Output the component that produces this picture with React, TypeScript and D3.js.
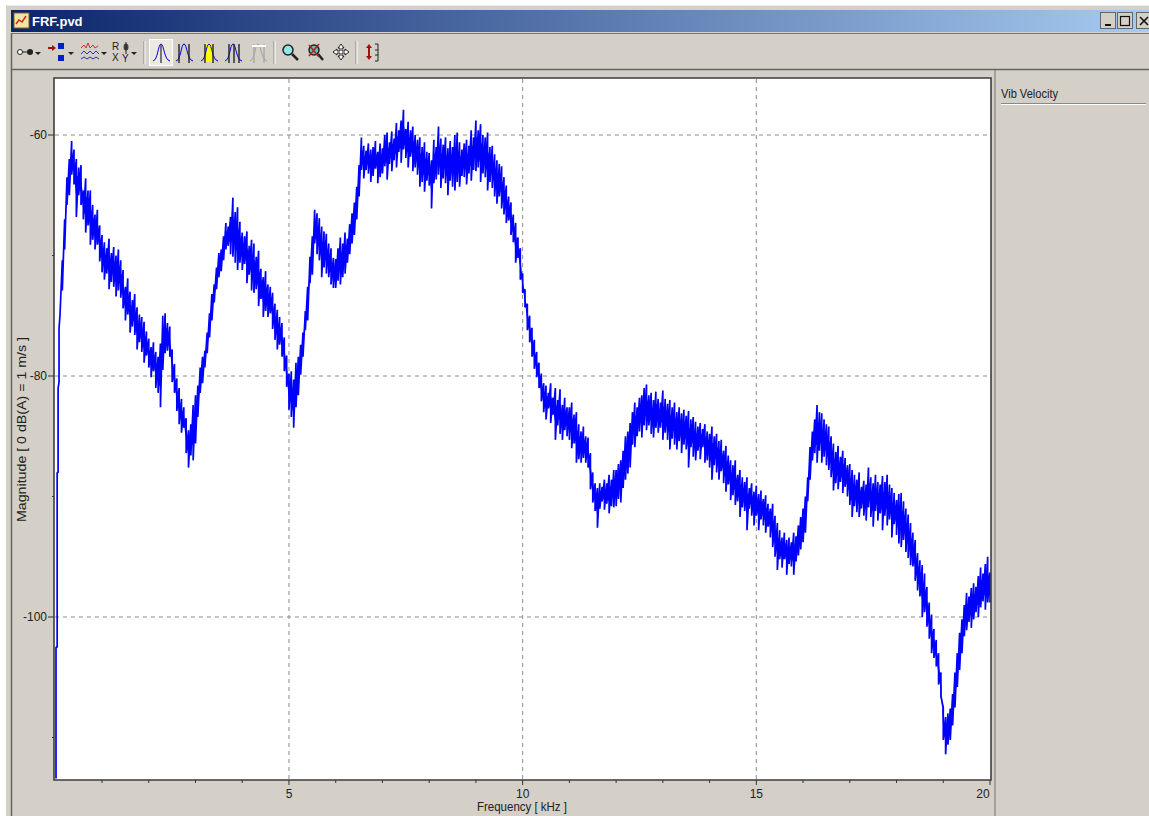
import React from "react";
import * as d3 from "d3";

const riseFreq = [0.015, 0.015, 0.04, 0.04, 0.06, 0.06, 0.08, 0.08, 0.1];
const riseDb = [-113.4, -102.5, -102.5, -88, -88, -81, -80.5, -76, -75];
const firstFreq = 0.15;
const freqStep = 0.05;

const upper = [
  -70.4,-67,-63.5,-62,-60.5,-61.2,-62,-62.7,-62.5,-64.6,-63.6,-64.6,-64.6,-65.8,-66.6,-66.2,-67.5,
  -68.3,-68.9,-69.4,-68.6,-69.8,-69.3,-70.0,-69.5,-70.4,-71.2,-72.6,-71.9,-73.0,-73.7,-73.2,-74.3,-74.9,-75.1,-75.5,-76.3,
  -76.9,-77.6,-77.2,-78.0,-78.4,-77.3,-75.0,-74.8,-75.6,-75.9,-77.8,-79.0,-80.2,-81.0,-81.9,-82.6,-83.5,-84.5,-84.0,-82.4,
  -81.6,-80.8,-79.3,-78.4,-77.9,-76.4,-74.8,-73.2,-72.4,-71.0,-69.8,-69.5,-68.4,-67.3,-67.6,-66.8,-65.2,-66.4,-66.0,-67.2,
  -68.1,-68.4,-68.0,-69.2,-68.7,-69.0,-70.1,-69.6,-71.1,-71.8,-71.3,-72.4,-72.6,-73.1,-74.0,-74.5,-75.1,-75.6,-76.8,-78.3,
  -79.8,-79.6,-80.3,-78.9,-78.4,-77.4,-76.4,-74.6,-72.6,-70.1,-68.4,-66.2,-66.5,-66.9,-67.6,-68.0,-68.2,-69.0,-69.4,-70.2,
  -70.3,-69.4,-68.5,-69.0,-68.1,-68.6,-67.4,-66.5,-65.6,-64.3,-62.5,-60.2,-60.9,-61.3,-60.7,-61.2,-61.0,-60.5,-61.4,-60.7,
  -61.1,-60.0,-59.8,-60.6,-59.7,-60.3,-59.0,-59.6,-58.8,-57.9,-59.5,-58.9,-59.6,-59.3,-60.0,-60.4,-60.2,-61.0,-60.6,-61.4,
  -61.5,-62.1,-60.4,-61.0,-59.3,-60.3,-60.8,-60.2,-61.1,-60.5,-61.0,-60.0,-59.8,-60.6,-61.2,-60.7,-60.4,-60.9,-59.6,-60.2,
  -58.8,-59.6,-59.1,-60.0,-60.2,-59.8,-61.0,-60.9,-61.6,-62.1,-62.4,-62.6,-63.5,-64.2,-65.1,-65.6,-66.6,-67.3,-68.5,-69.4,
  -71.5,-72.8,-74.0,-75.0,-76.0,-77.0,-78.0,-78.9,-79.8,-80.6,-80.8,-81.4,-80.6,-81.8,-81.0,-82.0,-81.1,-82.4,-81.8,-82.6,
  -82.6,-82.2,-83.2,-83.0,-84.0,-84.6,-84.2,-85.0,-85.1,-86.4,-88.0,-88.9,-89.3,-88.9,-89.2,-88.6,-88.9,-88.2,-88.6,-87.8,
  -87.8,-87.3,-87.0,-86.2,-85.0,-84.6,-83.9,-83.0,-82.2,-82.6,-81.8,-81.6,-81.0,-80.7,-81.6,-81.4,-82.0,-81.3,-81.9,-82.2,
  -81.2,-81.9,-82.3,-82.0,-82.6,-82.2,-83.0,-82.6,-83.1,-82.8,-83.3,-82.9,-83.6,-83.4,-83.8,-84.2,-83.9,-84.4,-84.0,-84.6,
  -84.8,-84.2,-85.0,-84.8,-85.4,-85.3,-86.2,-85.8,-86.6,-87.0,-87.4,-87.0,-88.2,-87.8,-88.4,-88.8,-88.4,-89.3,-88.9,-89.6,
  -89.1,-89.8,-89.5,-90.2,-89.9,-90.6,-91.0,-90.6,-91.6,-92.2,-92.8,-93.4,-93.0,-93.6,-93.4,-93.8,-93.0,-93.3,-92.4,-91.7,
  -91.0,-90.0,-88.4,-85.9,-84.6,-83.6,-82.4,-83.0,-83.1,-83.6,-84.0,-84.2,-85.0,-85.6,-86.3,-85.8,-86.7,-86.2,-86.8,-87.4,
  -87.3,-87.8,-88.2,-88.6,-88.0,-89.2,-88.7,-89.0,-87.6,-88.4,-88.9,-88.2,-88.8,-89.0,-88.3,-88.8,-88.2,-89.0,-89.3,-89.7,
  -90.3,-89.8,-89.7,-90.4,-91.0,-91.5,-92.2,-93.0,-93.6,-94.7,-95.3,-95.7,-96.4,-97.5,-98.8,-99.8,-101.0,-101.9,-103.0,-104.6,
  -107.5,-108.3,-108.0,-107.6,-106.4,-104.6,-103,-101.3,-100.2,-99.0,-98.0,-98.3,-97.6,-97.2,-97.5,-96.6,-95.9,-96.4,-95.6,-95.0,
  -96.3,
];

const lower = [
  -72.9,-69.5,-65.8,-65,-63.3,-64.1,-66.8,-65,-65.8,-67,-68.1,-67.5,-69.1,-68.7,-69.5,-69.1,-70.5,
  -71.4,-72.0,-71.5,-72.8,-72.2,-72.6,-73.4,-72.9,-73.5,-74.4,-75.4,-74.9,-76.4,-75.9,-76.6,-77.8,-77.2,-78.0,-78.9,-78.3,
  -79.3,-80.1,-79.6,-81.0,-81.4,-82.6,-79.5,-78.1,-77.9,-78.4,-80.5,-81.4,-82.9,-84.0,-84.7,-84.3,-86.4,-87.6,-86.6,-87.0,
  -85.6,-83.4,-81.4,-80.6,-79.3,-78.1,-76.8,-75.4,-73.9,-72.8,-71.8,-71.3,-70.4,-69.5,-69.2,-69.9,-70.1,-70.6,-71.2,-70.6,
  -71.2,-70.7,-72.3,-71.6,-72.9,-73.1,-72.8,-74.2,-73.6,-75.1,-74.6,-75.1,-74.8,-76.1,-77.0,-77.8,-77.4,-78.4,-79.6,-80.9,
  -82.8,-83.4,-84.3,-82.6,-81.6,-79.9,-78.4,-76.2,-75.4,-72.3,-71.6,-69.0,-69.9,-70.4,-71.8,-71,-71.5,-71.8,-72.4,-72.7,
  -72.7,-72.1,-72.4,-71.8,-71.5,-70.6,-69.9,-69.0,-68.3,-67.0,-65.1,-62.9,-63.6,-62.9,-63.2,-63.9,-63.4,-62.8,-64.0,-63.5,
  -63.2,-62.6,-63.7,-62.4,-63.0,-62.1,-62.7,-61.4,-62.3,-61.2,-61.9,-62.7,-61.8,-63.0,-62.7,-63.3,-64.3,-63.9,-64.7,-63.8,
  -64.2,-66.1,-64.0,-63.7,-63.3,-64.4,-63.6,-64.0,-65.0,-63.8,-64.3,-64.6,-63.9,-64.3,-63.4,-63.5,-64.1,-63.2,-63.8,-62.9,
  -63.0,-62.7,-63.9,-63.2,-63.5,-64.6,-63.9,-64.4,-65.1,-65.7,-65.1,-66.1,-66.6,-67.3,-67.1,-68.3,-68.9,-70.6,-70.2,-72,
  -73.1,-74.3,-76.2,-77.2,-78.4,-79.4,-80.1,-81.0,-82.1,-83,-83.6,-82.7,-83.9,-83.2,-85.3,-84.1,-84.8,-85.3,-84.5,-85.0,
  -85.3,-86.0,-85.6,-87.2,-86.9,-87.2,-86.8,-87.2,-87.6,-89.4,-90.5,-91.2,-92.6,-91.0,-90.4,-91.1,-90.6,-91.4,-90.8,-90.9,
  -90.8,-90.2,-90.5,-89.3,-88.6,-88.1,-87.6,-85.7,-85.9,-85.0,-84.6,-85.1,-84.1,-84.5,-84.1,-84.8,-85.1,-84.3,-84.7,-84.3,
  -85.3,-84.7,-85.3,-86.1,-85.2,-85.7,-86.1,-85.4,-86.4,-85.7,-86.1,-87.6,-85.9,-86.7,-87.0,-86.2,-86.9,-85.9,-87.2,-87.0,
  -87.6,-88.6,-87.4,-88.0,-88.6,-87.9,-88.9,-89.6,-89.0,-90.3,-89.9,-90.7,-90.4,-91.7,-90.9,-91.2,-92.8,-91.0,-91.6,-92.4,
  -91.6,-92.8,-91.9,-92.4,-93.0,-92.5,-93.4,-94.2,-95.0,-96.1,-95.2,-95.9,-95.2,-96.5,-95.6,-95.8,-96.5,-95.4,-94.9,-94.4,
  -93.8,-93.0,-90.4,-88.6,-87.0,-86.4,-87.2,-86.2,-87.2,-86.7,-87.4,-87.8,-88.4,-89.5,-88.9,-89.4,-88.8,-89.7,-89.2,-90.0,
  -90.7,-91.7,-90.8,-91.3,-91.7,-91.0,-91.6,-92.0,-90.9,-91.7,-92.5,-91.2,-92.0,-91.4,-92.8,-91.6,-92.4,-91.9,-93.4,-92.3,
  -93.2,-93.9,-94.2,-93.6,-94.6,-95.1,-95.7,-95.8,-97.0,-97.8,-98.3,-100,-99.6,-100.8,-101.8,-103.0,-103.4,-104.1,-105.6,-106.6,
  -110.2,-111.4,-110.6,-110.2,-109.0,-107.5,-105.8,-104.4,-103.0,-101.6,-101.1,-100.4,-100.9,-100.2,-99.6,-100.0,-99.2,-98.7,-99.4,-98.8,
  -98.8,
];

const xMajor = [5, 10, 15, 20];
const xMinor = [1, 2, 3, 4, 6, 7, 8, 9, 11, 12, 13, 14, 16, 17, 18, 19];
const yMajor = [-60, -80, -100];
const yMinor = [-70, -90, -110];

const W = 1149, H = 816;
const x = d3.scaleLinear().domain([0, 20]).range([55.3, 990]);
const y = d3.scaleLinear().domain([-60, -100]).range([135, 617]);

const FONT = "'Liberation Sans', Arial, sans-serif";
const GRAY = "#d4d0c8";

const Bell = ({ dx, color = "#0000e0" }: { dx: number; color?: string }) => (
  <path d={`M${dx},61 C${dx + 5},60 ${dx + 5},44 ${dx + 8},44 C${dx + 11},44 ${dx + 11},60 ${dx + 17},61`} fill="none" stroke={color} strokeWidth={1} />
);
const Bar = ({ px, color = "#222" }: { px: number; color?: string }) => (
  <line x1={px} x2={px} y1={44} y2={63} stroke={color} strokeWidth={1.4} />
);
const Sep = ({ px }: { px: number }) => (
  <g>
    <line x1={px} x2={px} y1={41} y2={64} stroke="#888" />
    <line x1={px + 1} x2={px + 1} y1={41} y2={64} stroke="#fff" />
  </g>
);
const Drop = ({ px }: { px: number }) => <path d={`M${px},52 h6 l-3,3 z`} fill="#222" />;

function Toolbar() {
  return (
    <g>
      <line x1={18} x2={33} y1={52} y2={52} stroke="#222" />
      <circle cx={20} cy={52} r={2.5} fill="#fff" stroke="#222" />
      <circle cx={30} cy={52} r={3} fill="#222" />
      <Drop px={35} />
      <path d="M48,47 h4 v-2 l4,3 l-4,3 v-2 h-4 z" fill="#a01010" />
      <rect x={58} y={43} width={6} height={6} fill="#0020c0" />
      <rect x={58} y={55} width={6} height={6} fill="#0020c0" />
      <Drop px={68} />
      <path d="M81,48 l3,-3 l2,3 l2,-5 l2,5 l3,-3 l2,3 l3,-2" fill="none" stroke="#d03030" />
      <path d="M81,54 l3,-3 l3,3 l3,-3 l3,3 l3,-3 l3,3" fill="none" stroke="#3030d0" />
      <path d="M81,59 l3,-2 l3,2 l3,-2 l3,2 l3,-2 l3,2" fill="none" stroke="#3030a0" />
      <Drop px={101} />
      <text x={112} y={50} fontFamily={FONT} fontSize={10} fill="#222">R</text>
      <text x={112} y={61} fontFamily={FONT} fontSize={10} fill="#222">X</text>
      <ellipse cx={126} cy={47} rx={2.5} ry={3.5} fill="#444" />
      <line x1={126} x2={126} y1={42} y2={54} stroke="#222" />
      <text x={122} y={62} fontFamily={FONT} fontSize={10} fill="#222">Y</text>
      <Drop px={131} />
      <Sep px={144} />
      <rect x={149.5} y={39.5} width={23} height={26} fill="#ece9e3" stroke="#fff" />
      <Bell dx={153} />
      <Bar px={161} color="#444" />
      <Bell dx={176} />
      <Bar px={179} /><Bar px={189} />
      <rect x={205} y={43} width={8} height={19} fill="#ffff00" />
      <Bell dx={201} />
      <Bar px={205} /><Bar px={213} />
      <Bell dx={225} />
      <Bar px={229} /><Bar px={234} /><Bar px={239} />
      <Bell dx={250} color="#a0a0a0" />
      <Bar px={254} color="#a8a8a8" /><Bar px={264} color="#a8a8a8" />
      <path d="M252,46 L266,46" stroke="#fff" strokeWidth={2} />
      <Sep px={274} />
      <circle cx={288} cy={50} r={5} fill="#8fe8e8" stroke="#222" strokeWidth={1.5} />
      <line x1={292} x2={298} y1={54} y2={60} stroke="#222" strokeWidth={2.5} />
      <circle cx={314} cy={50} r={5} fill="#60c0c0" stroke="#222" strokeWidth={1.5} />
      <line x1={318} x2={323} y1={54} y2={60} stroke="#222" strokeWidth={2.5} />
      <path d="M309,45 L319,57 M319,44 L309,56" stroke="#b02020" strokeWidth={1.6} />
      <path d="M341,44 l3,4 h-2 v3 h3 v-2 l4,3 l-4,3 v-2 h-3 v3 h2 l-3,4 l-3,-4 h2 v-3 h-3 v2 l-4,-3 l4,-3 v2 h3 v-3 h-2 z" fill="#fff" stroke="#222" />
      <Sep px={356} />
      <path d="M369,44 l3,4 h-2 v8 h2 l-3,4 l-3,-4 h2 v-8 h-2 z" fill="#a01010" />
      <path d="M375,44 h3 v17 h-3 M375,50 h3 M375,55 h3" fill="none" stroke="#222" />
    </g>
  );
}

export default function App() {
  const pts: [number, number][] = riseFreq.map((f, i) => [f, riseDb[i]]);
  upper.forEach((u, i) => {
    const f = firstFreq + i * freqStep;
    pts.push([f, u], [f, lower[i]]);
  });
  const trace = d3.line<[number, number]>().x((d) => x(d[0])).y((d) => y(d[1]))(pts) ?? "";
  const core = d3.area<number>()
    .x((_, i) => x(firstFreq + i * freqStep))
    .y1((u, i) => y(u - 0.3 * (u - lower[i])))
    .y0((u, i) => y(lower[i] + 0.3 * (u - lower[i])))(upper) ?? "";

  return (
    <svg width={W} height={H} viewBox={`0 0 ${W} ${H}`} style={{ position: "absolute", left: 0, top: 0, display: "block", background: "#fff" }}>
      <defs>
        <linearGradient id="title" x1="0" x2="1" y1="0" y2="0">
          <stop offset="0" stopColor="#0a246a" />
          <stop offset="1" stopColor="#a6caf0" />
        </linearGradient>
        <clipPath id="plot"><rect x={55} y={79} width={936} height={700} /></clipPath>
        <filter id="soft" x="-2%" y="-2%" width="104%" height="104%"><feGaussianBlur stdDeviation={0.3} /></filter>
      </defs>

      <rect x={6} y={5} width={W - 6} height={H - 5} fill={GRAY} />
      <line x1={7} x2={W} y1={5.5} y2={5.5} stroke="#eeece6" />
      <rect x={11} y={10} width={W - 11} height={22} fill="url(#title)" />
      <line x1={11} x2={W} y1={33.5} y2={33.5} stroke="#77756f" />
      <rect x={14} y={13} width={15} height={15} fill="#f4e4a0" stroke="#806020" />
      <path d="M16,24 l3,-4 l3,2 l4,-6" fill="none" stroke="#d02020" strokeWidth={1.4} />
      <text x={32} y={26} fontFamily={FONT} fontSize={13} fontWeight={700} fill="#fff">FRF.pvd</text>

      {[1100, 1117, 1136].map((bx) => (
        <rect key={bx} x={bx + 0.5} y={12.5} width={15} height={16} fill={GRAY} stroke="#666" />
      ))}
      <rect x={1105} y={24} width={6} height={2} fill="#111" />
      <rect x={1120.5} y={16.5} width={9} height={9} fill="none" stroke="#111" strokeWidth={1.2} />
      <path d="M1140,17 L1148,25 M1148,17 L1140,25" stroke="#111" strokeWidth={1.6} />

      <Toolbar />

      <line x1={11} x2={W} y1={69.5} y2={69.5} stroke="#66645f" strokeWidth={1.5} />
      <line x1={11.5} x2={11.5} y1={33} y2={H} stroke="#66645f" strokeWidth={1.5} />
      <line x1={995} x2={995} y1={70} y2={H} stroke="#77756f" strokeWidth={1} />

      <rect x={54} y={78} width={937} height={702} fill="#fff" />

      <g filter="url(#soft)">
        {xMajor.slice(0, 3).map((t) => (
          <line key={t} x1={x(t)} x2={x(t)} y1={79} y2={779} stroke="#8c8c8c" strokeDasharray="4 4" />
        ))}
        {yMajor.map((t) => (
          <line key={t} x1={55} x2={990} y1={y(t)} y2={y(t)} stroke="#8c8c8c" strokeDasharray="4 4" />
        ))}
        <g clipPath="url(#plot)">
          <path d={core} fill="#0000ff" />
          <path d={trace} fill="none" stroke="#0000ff" strokeWidth={1.7} strokeLinejoin="bevel" />
        </g>
      </g>

      <path d="M54,780 V78 H991 V780 Z" fill="none" stroke="#3c3c3c" strokeWidth={1.6} />

      {yMajor.map((t) => (
        <g key={t}>
          <line x1={48} x2={54} y1={y(t)} y2={y(t)} stroke="#333" />
          <text x={47} y={y(t) + 4} textAnchor="end" fontFamily={FONT} fontSize={12} fill="#222">{t}</text>
        </g>
      ))}
      {yMinor.map((t) => (
        <line key={t} x1={52} x2={54} y1={y(t)} y2={y(t)} stroke="#333" />
      ))}
      {xMajor.map((t) => (
        <g key={t}>
          <line x1={x(t)} x2={x(t)} y1={780} y2={785} stroke="#333" />
          <text x={t === 20 ? x(t) - 7 : x(t)} y={798} textAnchor="middle" fontFamily={FONT} fontSize={12} fill="#222">{t}</text>
        </g>
      ))}
      {xMinor.map((t) => (
        <line key={t} x1={x(t)} x2={x(t)} y1={780} y2={783} stroke="#333" />
      ))}

      <text x={477} y={811} textLength={90} lengthAdjust="spacingAndGlyphs" fontFamily={FONT} fontSize={13} fill="#222">Frequency [ kHz ]</text>
      <text transform="translate(26,522) rotate(-90)" textLength={185} lengthAdjust="spacingAndGlyphs" fontFamily={FONT} fontSize={13} fill="#222">Magnitude [ 0 dB(A) = 1 m/s ]</text>

      <text x={1001} y={98} textLength={57} lengthAdjust="spacingAndGlyphs" fontFamily={FONT} fontSize={13} fill="#222">Vib Velocity</text>
      <line x1={1001} x2={1146} y1={103.5} y2={103.5} stroke="#888" />
      <line x1={1001} x2={1146} y1={104.5} y2={104.5} stroke="#fff" />
    </svg>
  );
}
